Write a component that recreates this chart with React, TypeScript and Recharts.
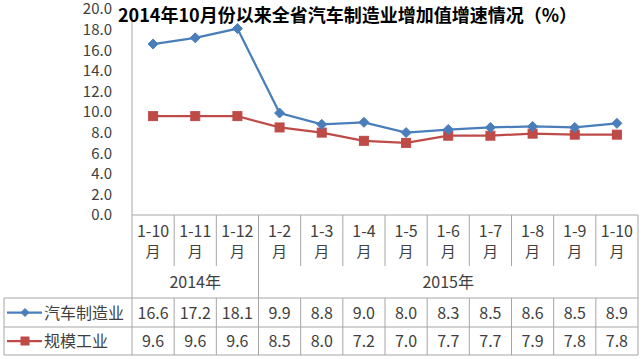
import { LineChart, Line, XAxis, YAxis } from "recharts";

const categories = ["1-10", "1-11", "1-12", "1-2", "1-3", "1-4", "1-5", "1-6", "1-7", "1-8", "1-9", "1-10"];
const carValues = [16.6, 17.2, 18.1, 9.9, 8.8, 9.0, 8.0, 8.3, 8.5, 8.6, 8.5, 8.9];
const industryValues = [9.6, 9.6, 9.6, 8.5, 8.0, 7.2, 7.0, 7.7, 7.7, 7.9, 7.8, 7.8];
const yearLabels = ["2014年", "2015年"];
const yearSpans = [3, 9];
const seriesNames = ["汽车制造业", "规模工业"];
const yTicks = [0, 2, 4, 6, 8, 10, 12, 14, 16, 18, 20];

const W = 644;
const H = 359;
const PLOT_LEFT = 132;
const PLOT_RIGHT = 638;
const PLOT_TOP = 9;
const AXIS_Y = 215;
const STEP = (PLOT_RIGHT - PLOT_LEFT) / categories.length;
const HEADER_BOTTOM = 266;
const ROW1_TOP = 298;
const ROW2_TOP = 327;
const TABLE_BOTTOM = 355;
const TABLE_LEFT = 4;

const BLUE = "#4a7ebb";
const RED = "#be4b48";
const GRID = "#a6a6a6";
const TEXT = "#404040";
const FONT = "'Liberation Sans Narrow', 'Noto Sans CJK SC', sans-serif";
const CJK = "'Noto Sans CJK SC', sans-serif";

const data = categories.map((c, i) => ({ i, car: carValues[i], ind: industryValues[i] }));

const yearStarts = yearSpans.map((_, k) => yearSpans.slice(0, k).reduce((a, b) => a + b, 0));
const yearEnds = yearStarts.map((s, k) => s + yearSpans[k]);

function diamond(cx: number, cy: number, r: number, color: string, key?: string) {
  return (
    <path key={key} d={`M${cx},${cy - r}L${cx + r},${cy}L${cx},${cy + r}L${cx - r},${cy}Z`} fill={color} stroke={color} strokeWidth={1} />
  );
}

function square(cx: number, cy: number, r: number, color: string, key?: string) {
  return <rect key={key} x={cx - r} y={cy - r} width={r * 2} height={r * 2} fill={color} stroke={color} strokeWidth={1} />;
}

function TableTick(props: any) {
  const { x, payload } = props;
  const i = Number(payload.value);
  const left = x - STEP / 2;
  const right = x + STEP / 2;
  const isLast = i === categories.length - 1;
  const isYearEnd = yearEnds.includes(i + 1);
  const yearIdx = yearStarts.indexOf(i);
  const row1 = (ROW1_TOP + ROW2_TOP) / 2;
  const row2 = (ROW2_TOP + TABLE_BOTTOM) / 2;

  return (
    <g>
      {/* header cell */}
      <text x={x} y={237} textAnchor="middle" fontSize={16} fill={TEXT} fontFamily={FONT}>
        {categories[i]}
      </text>
      <text x={x} y={257} textAnchor="middle" fontSize={15} fill={TEXT} fontFamily={CJK}>
        月
      </text>
      {/* right boundary */}
      {isLast || isYearEnd ? (
        <line x1={right} y1={AXIS_Y} x2={right} y2={TABLE_BOTTOM} stroke={GRID} />
      ) : (
        <>
          <line x1={right} y1={AXIS_Y} x2={right} y2={HEADER_BOTTOM} stroke={GRID} />
          <line x1={right} y1={ROW1_TOP} x2={right} y2={TABLE_BOTTOM} stroke={GRID} />
        </>
      )}
      {/* year label */}
      {yearIdx >= 0 && (
        <text
          x={left + (yearSpans[yearIdx] * STEP) / 2}
          y={288}
          textAnchor="middle"
          fontSize={16}
          fill={TEXT}
          fontFamily={FONT}
        >
          {yearLabels[yearIdx]}
        </text>
      )}
      {/* values */}
      <text x={x} y={row1 + 6} textAnchor="middle" fontSize={16} fill={TEXT} fontFamily={FONT}>
        {carValues[i].toFixed(1)}
      </text>
      <text x={x} y={row2 + 6} textAnchor="middle" fontSize={16} fill={TEXT} fontFamily={FONT}>
        {industryValues[i].toFixed(1)}
      </text>
      {/* frame + legend column, once */}
      {i === 0 && (
        <g>
          <line x1={left} y1={AXIS_Y} x2={left} y2={TABLE_BOTTOM} stroke={GRID} />
          <line x1={TABLE_LEFT} y1={ROW1_TOP} x2={PLOT_RIGHT} y2={ROW1_TOP} stroke={GRID} />
          <line x1={TABLE_LEFT} y1={ROW2_TOP} x2={PLOT_RIGHT} y2={ROW2_TOP} stroke={GRID} />
          <line x1={TABLE_LEFT} y1={TABLE_BOTTOM} x2={PLOT_RIGHT} y2={TABLE_BOTTOM} stroke={GRID} />
          <line x1={TABLE_LEFT} y1={ROW1_TOP} x2={TABLE_LEFT} y2={TABLE_BOTTOM} stroke={GRID} />
          <line x1={7} y1={row1} x2={42} y2={row1} stroke={BLUE} strokeWidth={2.25} />
          {diamond(25, row1, 4, BLUE)}
          <text x={44} y={row1 + 6} fontSize={16} fill={TEXT} fontFamily={CJK}>
            {seriesNames[0]}
          </text>
          <line x1={7} y1={row2} x2={42} y2={row2} stroke={RED} strokeWidth={2.25} />
          {square(25, row2, 4, RED)}
          <text x={44} y={row2 + 6} fontSize={16} fill={TEXT} fontFamily={CJK}>
            {seriesNames[1]}
          </text>
        </g>
      )}
    </g>
  );
}

export default function App() {
  return (
    <div style={{ position: "absolute", left: 0, top: 0, width: W, height: H, background: "#fff" }}>
      <LineChart width={W} height={H} data={data} margin={{ top: PLOT_TOP, right: W - PLOT_RIGHT, left: 0, bottom: 0 }}>
        <YAxis
          width={PLOT_LEFT}
          domain={[0, 20]}
          ticks={yTicks}
          interval={0}
          tickFormatter={(v: number) => v.toFixed(1)}
          tickLine={false}
          tickSize={0}
          tickMargin={20}
          axisLine={{ stroke: GRID }}
          tick={{ fill: TEXT, fontSize: 15, fontFamily: FONT }}
        />
        <XAxis
          dataKey="i"
          type="category"
          height={H - AXIS_Y}
          padding={{ left: STEP / 2, right: STEP / 2 }}
          interval={0}
          tickLine={false}
          tickSize={0}
          tickMargin={0}
          axisLine={{ stroke: GRID }}
          tick={<TableTick />}
        />
        <Line
          dataKey="ind"
          stroke={RED}
          strokeWidth={2.25}
          isAnimationActive={false}
          dot={(p: any) => square(p.cx, p.cy, 4.5, RED, `r${p.index}`)}
        />
        <Line
          dataKey="car"
          stroke={BLUE}
          strokeWidth={2.25}
          isAnimationActive={false}
          dot={(p: any) => diamond(p.cx, p.cy, 5, BLUE, `b${p.index}`)}
        />
      </LineChart>
      <svg width={W} height={40} style={{ position: "absolute", left: 0, top: 0, pointerEvents: "none" }}>
        <text x={118} y={22} fontSize={18} fontWeight="bold" fill="#000" fontFamily={CJK}>
          2014年10月份以来全省汽车制造业增加值增速情况（%）
        </text>
      </svg>
    </div>
  );
}
